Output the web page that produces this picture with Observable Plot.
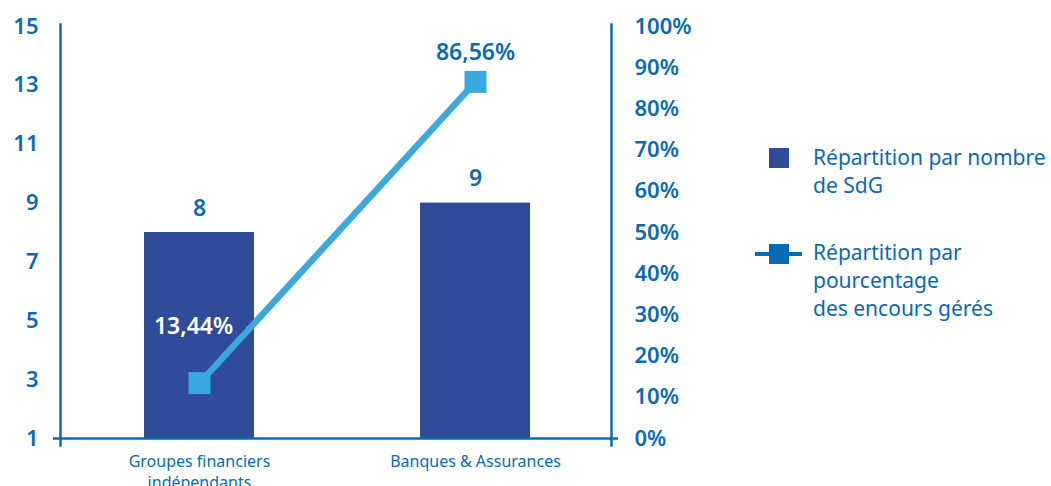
<!DOCTYPE html>
<html>
<head>
<meta charset="utf-8">
<script src="https://cdn.jsdelivr.net/npm/d3@7"></script>
<script src="https://cdn.jsdelivr.net/npm/@observablehq/plot@0.6"></script>
<style>
  html, body { margin: 0; padding: 0; background: #fff; }
  #wrap { position: relative; width: 1051px; height: 486px; overflow: hidden; font-family: "Noto Sans", sans-serif; }
  #chart { position: absolute; left: 0; top: 0; }
  .leg { position: absolute; left: 813px; color: #0A6AB4; font-size: 21px; line-height: 28px; font-family: "Noto Sans", sans-serif; white-space: nowrap; }
  .sw { position: absolute; }
</style>
</head>
<body>
<div id="wrap">
  <div id="chart"></div>
  <div class="sw" style="left:769px;top:148px;width:20px;height:20px;background:#2F4B9A"></div>
  <div class="leg" id="leg1" style="top:143px">Répartition par nombre<br>de SdG</div>
  <div class="sw" style="left:755px;top:252px;width:47px;height:4px;background:#0A6AB4"></div>
  <div class="sw" style="left:769px;top:244px;width:20px;height:20px;background:#0A6AB4"></div>
  <div class="leg" id="leg2" style="top:238px">Répartition par<br>pourcentage<br>des encours gérés</div>
</div>
<script>
const categories = ["Groupes financiers\nindépendants", "Banques & Assurances"];
const counts = [8, 9];
const percents = [13.44, 86.56];
const leftTicks = [1, 3, 5, 7, 9, 11, 13, 15];
const rightTicks = [0, 10, 20, 30, 40, 50, 60, 70, 80, 90, 100];

const blue = "#0A6AB4";
const barColor = "#2F4B9A";
const lineColor = "#39A9DF";

// secondary (percent) axis mapped onto the count scale [1, 15]
const pctToY = p => 1 + p / 100 * 14;

const data = categories.map((c, i) => ({cat: c, count: counts[i], pct: percents[i]}));
const fmtPct = p => p.toFixed(2).replace(".", ",") + "%";

const chart = Plot.plot({
  width: 740,
  height: 486,
  marginLeft: 60,
  marginRight: 129,
  marginTop: 26,
  marginBottom: 48,
  style: {fontFamily: "'Noto Sans', sans-serif", color: blue, background: "transparent"},
  x: {type: "band", domain: categories, paddingInner: 0.6, paddingOuter: 0.3, range: [61, 614]},
  y: {domain: [1, 15]},
  marks: [
    Plot.barY(data, {x: "cat", y1: 1, y2: "count", fill: barColor}),
    Plot.frame({anchor: "left", stroke: blue, strokeWidth: 2.5, insetTop: -2, insetBottom: -7}),
    Plot.frame({anchor: "right", stroke: blue, strokeWidth: 2.5, insetTop: -2, insetBottom: -7}),
    Plot.ruleY([1], {stroke: blue, strokeWidth: 2.5, insetLeft: -7, insetRight: -7}),
    Plot.axisY(leftTicks, {anchor: "left", tickSize: 0, tickPadding: 22, fontSize: 22, fontWeight: 600, fill: blue, label: null}),
    Plot.axisY(rightTicks.map(pctToY), {anchor: "right", tickSize: 0, tickPadding: 23, fontSize: 22, fontWeight: 600, fill: blue, label: null,
      textAnchor: "start", tickFormat: (d, i) => rightTicks[i] + "%"}),
    Plot.axisX({anchor: "bottom", tickSize: 0, tickPadding: 14, fontSize: 16, lineHeight: 1.3, fill: blue, label: null}),
    Plot.line(data, {x: "cat", y: d => pctToY(d.pct), stroke: lineColor, strokeWidth: 6.5}),
    Plot.dot(data, {x: "cat", y: d => pctToY(d.pct), symbol: "square", r: 12.4, fill: lineColor, stroke: null}),
    Plot.text(data, {x: "cat", y: "count", text: d => String(d.count), dy: -24, fontSize: 23, fontWeight: 600, fill: blue, lineAnchor: "middle"}),
    Plot.text(data.slice(1), {x: "cat", y: d => pctToY(d.pct), text: d => fmtPct(d.pct), dy: -29, fontSize: 23, fontWeight: 600, fill: blue, lineAnchor: "middle"}),
    Plot.text(data.slice(0, 1), {x: "cat", y: d => pctToY(d.pct), text: d => fmtPct(d.pct), dx: -6, dy: -57, fontSize: 23, fontWeight: 600, fill: "white", lineAnchor: "middle"})
  ]
});
document.getElementById("chart").appendChild(chart);
</script>
</body>
</html>
